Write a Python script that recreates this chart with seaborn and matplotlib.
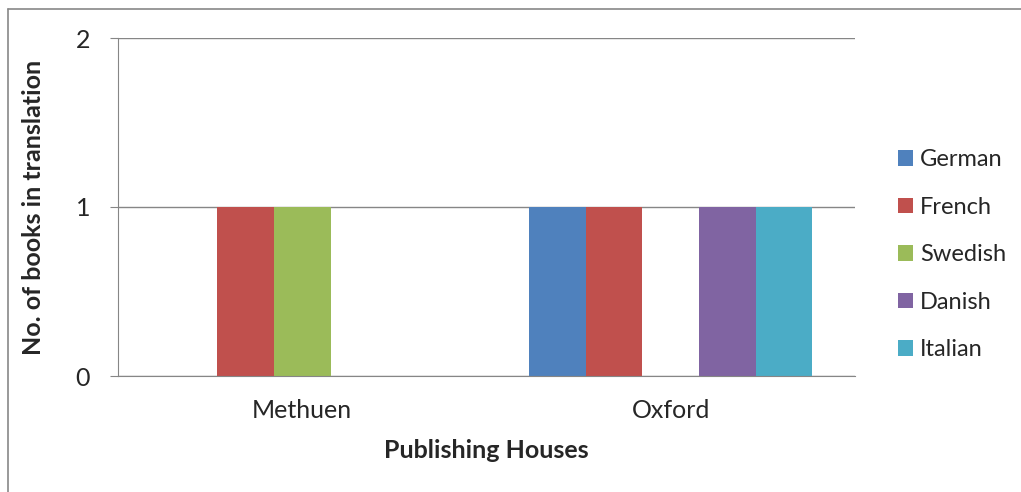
import pandas as pd
import seaborn as sns
import matplotlib.pyplot as plt
from matplotlib.lines import Line2D
from matplotlib.patches import Patch

houses = ['Methuen', 'Oxford']
languages = ['German', 'French', 'Swedish', 'Danish', 'Italian']
methuen_books = [0, 1, 1, 0, 0]
oxford_books = [1, 1, 0, 1, 1]
colors = ['#4F81BD', '#C0504D', '#9BBB59', '#8064A2', '#4BACC6']

books_df = pd.DataFrame({
    'house': [houses[0]] * len(languages) + [houses[1]] * len(languages),
    'language': languages * 2,
    'books': methuen_books + oxford_books,
})

sns.set_style('white')
plt.rcParams['font.family'] = ['Lato', 'DejaVu Sans']

fig = plt.figure(figsize=(10.21, 4.92), dpi=100)
ax = fig.add_axes([118 / 1021, 1 - 376 / 492, (855 - 118) / 1021, (376 - 38) / 492])

sns.barplot(data=books_df, x='house', y='books', hue='language', hue_order=languages,
            palette=colors, width=0.767, gap=0, ax=ax, legend=False, saturation=1,
            linewidth=0, edgecolor='none')

ax.set_ylim(0, 2)
ax.set_xlim(-0.5, 1.5)
ax.set_yticks([0, 1, 2])
ax.yaxis.grid(True, color='#868686', linewidth=1)
ax.set_axisbelow(True)
for side in ['top', 'right']:
    ax.spines[side].set_visible(False)
ax.spines['left'].set_color('#868686')
ax.spines['bottom'].set_color('#868686')
ax.tick_params(axis='y', left=True, length=6, color='#868686', labelsize=18, pad=14)
ax.tick_params(axis='x', bottom=False, labelsize=18, pad=13)

ax.set_xlabel('Publishing Houses', fontsize=18, fontweight='bold', labelpad=12)
ax.set_ylabel('No. of books in translation', fontsize=18, fontweight='bold', labelpad=22)

handles = [Patch(facecolor=c, edgecolor='none') for c in colors]
fig.legend(handles, languages, loc='upper left', bbox_to_anchor=(889 / 1021, 1 - 140 / 492),
           frameon=False, fontsize=17, handlelength=0.62, handleheight=0.62,
           handletextpad=0.3, labelspacing=1.12, borderaxespad=0)

# outer chart border (top and left visible)
fig.add_artist(Line2D([8 / 1021, 8 / 1021], [0, 1 - 9 / 492], color='#888888', linewidth=1.2))
fig.add_artist(Line2D([8 / 1021, 1], [1 - 9 / 492, 1 - 9 / 492], color='#888888', linewidth=1.2))

fig.savefig('out.png', dpi=100)
